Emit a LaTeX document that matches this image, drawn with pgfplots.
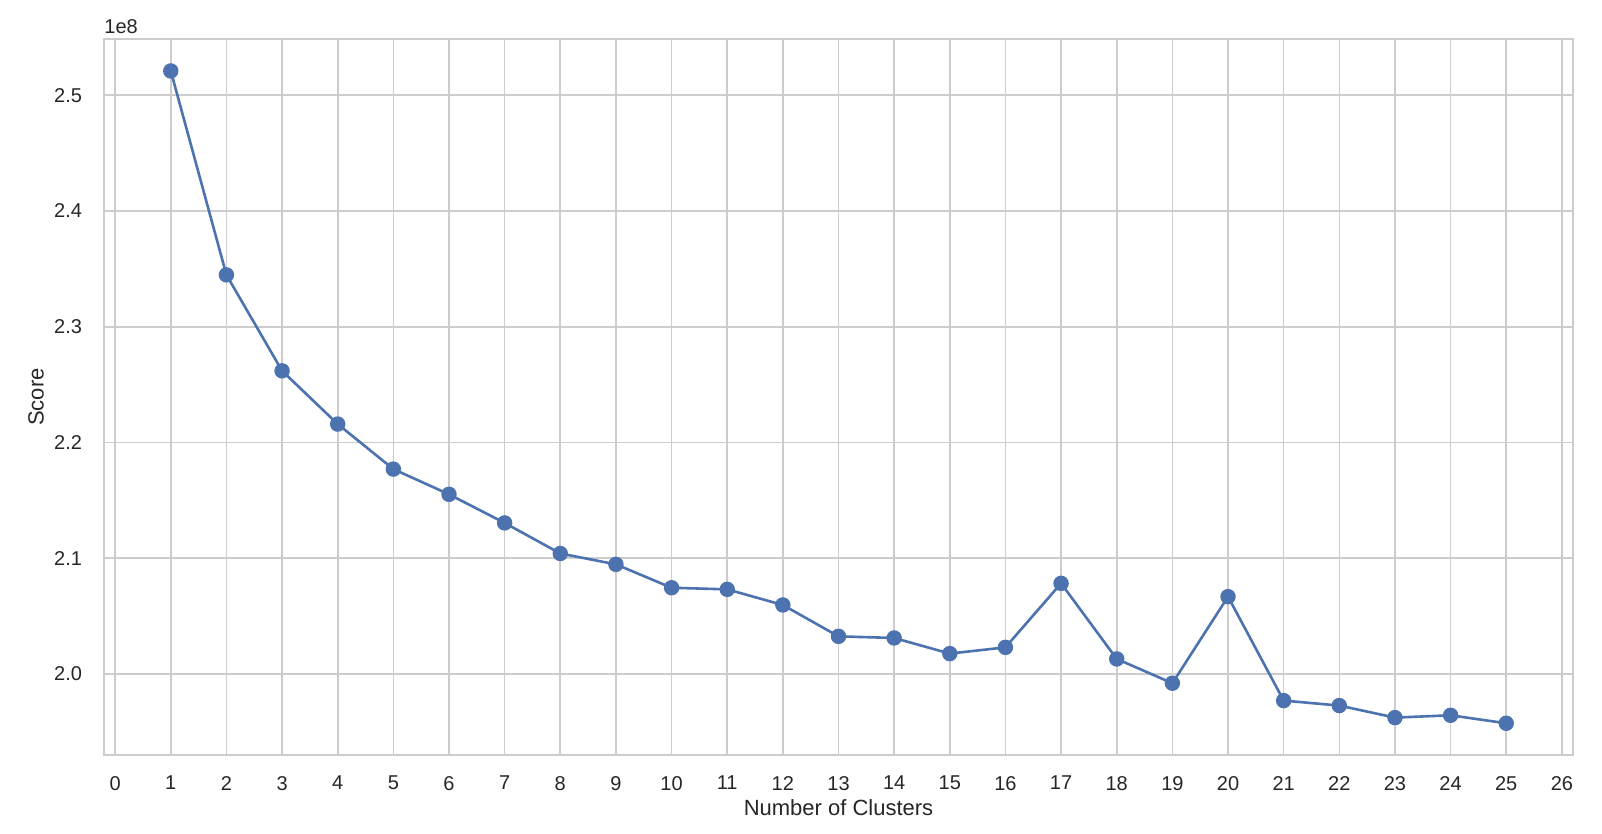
\documentclass[border=0pt]{standalone}
\usepackage{pgfplots}
\pgfplotsset{compat=1.18}
\usepackage{fontspec}
\setmainfont{Liberation Sans}
\definecolor{sbblue}{HTML}{4C72B0}
\definecolor{gridc}{HTML}{CCCCCC}
\definecolor{txt}{HTML}{262626}
\begin{document}
\begin{tikzpicture}
\useasboundingbox (0,0) rectangle (801pt,417pt);
\begin{axis}[
  at={(52pt,39.5pt)}, anchor=south west,
  scale only axis, width=734.5pt, height=358pt,
  xmin=-0.2, xmax=26.2, ymin=1.930, ymax=2.5486,
  xtick={0,1,...,26},
  ytick={2.0,2.1,2.2,2.3,2.4,2.5},
  yticklabel style={/pgf/number format/fixed,/pgf/number format/fixed zerofill,/pgf/number format/precision=1, xshift=-7.5pt},
  xticklabel style={yshift=-7pt},
  /pgf/number format/assume math mode=true,
  tick label style={font=\fontsize{10}{11}\selectfont, text=txt},
  major tick length=0pt,
  grid=major,
  major grid style={gridc, line width=0.8pt},
  axis line style={gridc, line width=0.8pt},
  xlabel={Number of Clusters}, ylabel={Score},
  label style={font=\fontsize{11}{12}\selectfont, text=txt},
  xlabel style={at={(axis description cs:0.5,0)}, anchor=center, yshift=-26.5pt},
  ylabel style={at={([xshift=-34pt]axis description cs:0,0.5)}, anchor=center},
  clip=false,
]
\addplot[color=sbblue, line width=1.3pt, mark=*, mark size=3.2pt, mark options={fill=sbblue, draw=sbblue}] coordinates {
(1,2.5210) (2,2.3448) (3,2.2619) (4,2.2159) (5,2.1770) (6,2.1552) (7,2.1305)
(8,2.1041) (9,2.0947) (10,2.0745) (11,2.0731) (12,2.0596) (13,2.0325)
(14,2.0311) (15,2.0176) (16,2.0230) (17,2.0783) (18,2.0130) (19,1.9920)
(20,2.0668) (21,1.9770) (22,1.9727) (23,1.9623) (24,1.9643) (25,1.9574)
};
\node[anchor=west, inner sep=0pt, font=\fontsize{10}{11}\selectfont, text=txt] at ([yshift=6pt]axis description cs:0,1) {1e8};
\end{axis}
\end{tikzpicture}
\end{document}
